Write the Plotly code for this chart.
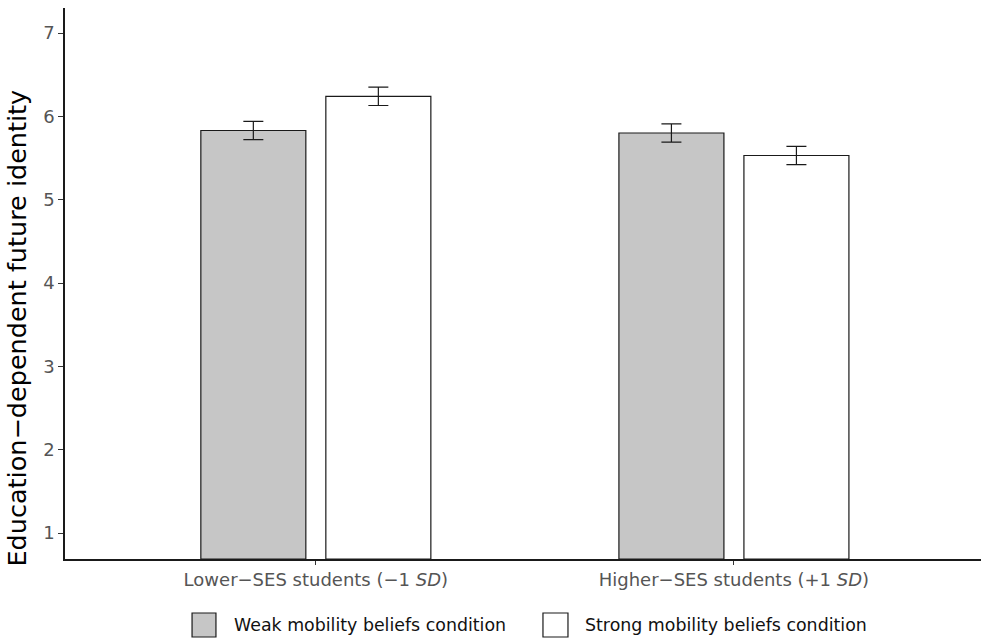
import plotly.graph_objects as go

# Data
groups = ["Lower\u2212SES students (\u22121 <i>SD</i>)", "Higher\u2212SES students (+1 <i>SD</i>)"]
weak_means = [5.83, 5.80]
weak_se = [0.11, 0.11]
strong_means = [6.24, 5.53]
strong_se = [0.11, 0.11]
series_names = ["Weak mobility beliefs condition", "Strong mobility beliefs condition"]
series_fills = ["#c6c6c6", "#ffffff"]
y_ticks = [1, 2, 3, 4, 5, 6, 7]
y_title = "Education\u2212dependent future identity"

FONT = "DejaVu Sans, Liberation Sans, Arial, sans-serif"
INK = "#1a1a1a"
BASE = 0.688

def bar_trace(name, means, se, fill):
    return go.Bar(
        name=name,
        x=groups,
        y=[m - BASE for m in means],
        base=BASE,
        marker=dict(color=fill, line=dict(color=INK, width=1.2)),
        error_y=dict(type="data", array=se, color=INK, thickness=1.2, width=10),
        showlegend=False,
    )

fig = go.Figure()
fig.add_trace(bar_trace(series_names[0], weak_means, weak_se, series_fills[0]))
fig.add_trace(bar_trace(series_names[1], strong_means, strong_se, series_fills[1]))

# Legend below the plot: large square keys with labels
legend_keys = [(0.1387, 0.1648, 0.1823), (0.5218, 0.5491, 0.5655)]
for (x0, x1, xt), name, fill in zip(legend_keys, series_names, series_fills):
    fig.add_shape(type="rect", xref="paper", yref="paper",
                  x0=x0, x1=x1, y0=-0.098, y1=-0.1416,
                  fillcolor=fill, line=dict(color=INK, width=1.2))
    fig.add_annotation(xref="paper", yref="paper", x=xt, y=-0.1198,
                       xanchor="left", yanchor="middle", showarrow=False,
                       text=name, font=dict(size=17.4, color="#111111"))

# Vertical y-axis title
fig.add_annotation(xref="paper", yref="paper", x=-0.0525, y=0.42,
                   xanchor="center", yanchor="middle", showarrow=False,
                   textangle=-90, text=y_title,
                   font=dict(size=25.5, color="#000000"))

fig.update_layout(
    width=981, height=642,
    margin=dict(l=65, r=0, t=8, b=83),
    paper_bgcolor="white", plot_bgcolor="white",
    barmode="group", bargap=0.402, bargroupgap=0.16,
    font=dict(family=FONT, color="#000000"),
    showlegend=False,
)

fig.update_xaxes(
    range=[-0.6, 1.591],
    showline=True, linecolor=INK, linewidth=1.5,
    ticks="outside", ticklen=4, tickcolor="#333333", tickwidth=1,
    tickfont=dict(size=18, color="#555555"),
    showgrid=False, zeroline=False,
)
fig.update_yaxes(
    range=[BASE, 7.3],
    tickvals=y_ticks,
    showline=True, linecolor=INK, linewidth=1.5,
    ticks="outside", ticklen=5, tickcolor="#333333", tickwidth=1,
    tickfont=dict(size=18, color="#555555"),
    showgrid=False, zeroline=False,
)

fig.write_html("out.html")
